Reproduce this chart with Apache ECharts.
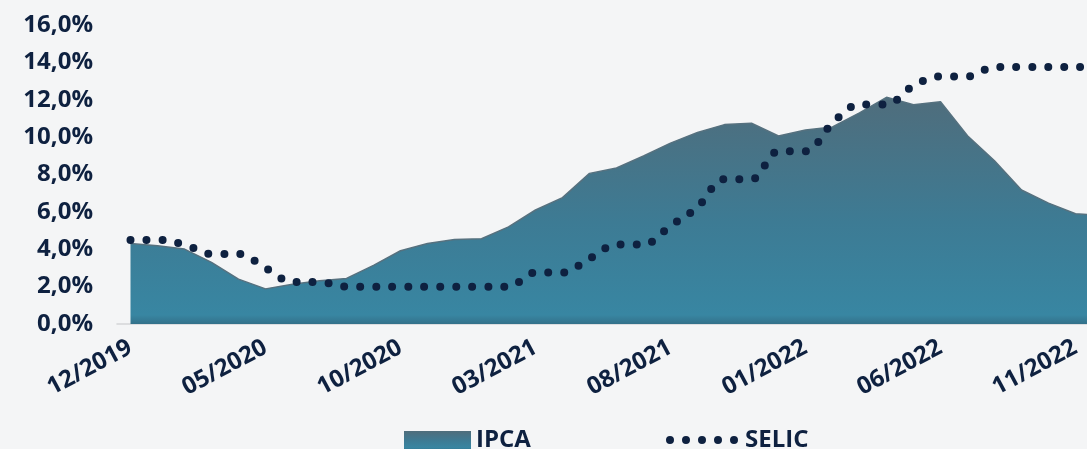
<!DOCTYPE html>
<html>
<head>
<meta charset="utf-8">
<title>IPCA x SELIC</title>
<script src="https://cdn.jsdelivr.net/npm/echarts@6/dist/echarts.min.js"></script>
<style>
  html, body { margin: 0; padding: 0; background: #f4f5f6; }
  #chart { width: 1087px; height: 449px; }
</style>
</head>
<body>
<div id="chart"></div>
<script>
// meses (12/2019 .. 12/2022)
var months = [
  '12/2019', '01/2020', '02/2020', '03/2020', '04/2020', '05/2020', '06/2020', '07/2020', '08/2020', '09/2020', '10/2020', '11/2020',
  '12/2020', '01/2021', '02/2021', '03/2021', '04/2021', '05/2021', '06/2021', '07/2021', '08/2021', '09/2021', '10/2021', '11/2021',
  '12/2021', '01/2022', '02/2022', '03/2022', '04/2022', '05/2022', '06/2022', '07/2022', '08/2022', '09/2022', '10/2022', '11/2022',
  '12/2022'
];
// IPCA acumulado 12 meses (%)
var ipca = [
  4.31, 4.19, 4.01, 3.30, 2.40, 1.88, 2.13, 2.31, 2.44, 3.14, 3.92, 4.31,
  4.52, 4.56, 5.20, 6.10, 6.76, 8.06, 8.35, 8.99, 9.68, 10.25, 10.67, 10.74,
  10.06, 10.38, 10.54, 11.30, 12.13, 11.73, 11.89, 10.07, 8.73, 7.17, 6.47, 5.90,
  5.79
];
// meta SELIC (%)
var selic = [
  4.50, 4.50, 4.25, 3.75, 3.75, 3.00, 2.25, 2.25, 2.00, 2.00, 2.00, 2.00,
  2.00, 2.00, 2.00, 2.75, 2.75, 3.50, 4.25, 4.25, 5.25, 6.25, 7.75, 7.75,
  9.25, 9.25, 10.75, 11.75, 11.75, 12.75, 13.25, 13.25, 13.75, 13.75, 13.75, 13.75,
  13.75
];
var yTicks = [0, 16, 2]; // min, max, intervalo

var navy = '#0e2140';
var font = '"Open Sans", "Noto Sans", sans-serif';

var chart = echarts.init(document.getElementById('chart'));

function areaGradient() {
  return new echarts.graphic.LinearGradient(0, 0, 0, 1, [
    { offset: 0, color: '#4f6d7c' },
    { offset: 0.55, color: '#3d7b94' },
    { offset: 0.96, color: '#3886a2' },
    { offset: 1, color: '#33718a' }
  ]);
}

var option = {
  backgroundColor: '#f4f5f6',
  animation: false,
  textStyle: { fontFamily: font },
  grid: {
    left: 117,
    top: 25,
    bottom: 125,
    right: -29,
    containLabel: false,
    outerBoundsMode: 'none'
  },
  legend: [{
    left: 399,
    top: 423,
    itemWidth: 67,
    itemHeight: 18,
    itemGap: 8,
    textStyle: { color: navy, fontSize: 24, fontWeight: 'bold', fontFamily: font },
    data: [{ name: 'IPCA', icon: 'rect', itemStyle: { color: areaGradient(), borderWidth: 0 } }]
  }, {
    left: 661,
    top: 423,
    itemWidth: 70,
    itemHeight: 18,
    itemGap: 8,
    textStyle: { color: navy, fontSize: 24, fontWeight: 'bold', fontFamily: font },
    itemStyle: { color: 'rgba(0,0,0,0)', borderWidth: 0, opacity: 0 },
    lineStyle: { width: 8, type: [0, 16], cap: 'round', color: navy },
    data: ['SELIC']
  }],
  xAxis: {
    type: 'category',
    data: months,
    boundaryGap: true,
    axisLine: { lineStyle: { color: '#d3d5d8', width: 1.5 } },
    axisTick: { interval: 4, length: 7, lineStyle: { color: '#d3d5d8', width: 1.5 } },
    axisLabel: {
      interval: 4,
      rotate: 28,
      margin: 22,
      color: navy,
      fontSize: 24,
      fontWeight: 'bold',
      fontFamily: font
    }
  },
  yAxis: {
    type: 'value',
    min: yTicks[0],
    max: yTicks[1],
    interval: yTicks[2],
    axisLine: { show: false },
    axisTick: { show: false },
    splitLine: { show: false },
    axisLabel: {
      margin: 24,
      color: navy,
      fontSize: 24,
      fontWeight: 'bold',
      fontFamily: font,
      formatter: function (v) {
        return v.toFixed(1).replace('.', ',') + '%';
      }
    }
  },
  series: [{
    name: 'IPCA',
    type: 'line',
    data: ipca,
    symbol: 'none',
    z: 2,
    lineStyle: { color: '#56717f', width: 1.5 },
    itemStyle: { color: '#3d7b94' },
    areaStyle: { color: areaGradient(), opacity: 1 }
  }, {
    name: 'SELIC',
    type: 'line',
    data: selic,
    symbol: 'none',
    smooth: 0.35,
    z: 3,
    itemStyle: { color: navy },
    lineStyle: { color: navy, width: 8, type: [0, 16], cap: 'round' }
  }]
};

chart.setOption(option);
</script>
</body>
</html>
